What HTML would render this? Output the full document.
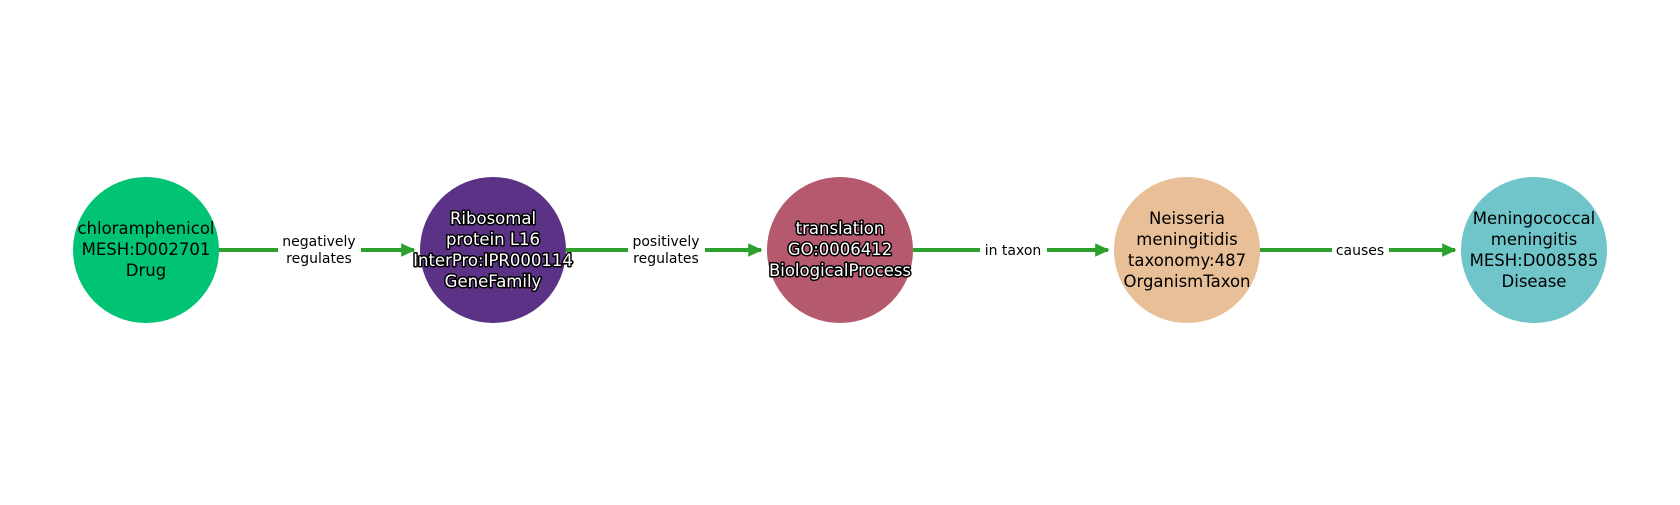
<!DOCTYPE html>
<html><head><style>body{margin:0;background:#fff}</style></head><body>
<svg width="1680" height="500" xmlns="http://www.w3.org/2000/svg" font-family="'DejaVu Sans', 'Liberation Sans', sans-serif">
<defs><marker id="a" markerWidth="4" markerHeight="4" refX="3.2" refY="2" orient="auto" markerUnits="strokeWidth"><path d="M0,0.3 L3.6,2 L0,3.7 z" fill="#2ca02c"/></marker></defs>
<g stroke="#2ca02c" stroke-width="4" fill="none">
<line x1="219" y1="250" x2="278" y2="250"/><line x1="361" y1="250" x2="414" y2="250" marker-end="url(#a)"/>
<line x1="566" y1="250" x2="628" y2="250"/><line x1="705" y1="250" x2="761" y2="250" marker-end="url(#a)"/>
<line x1="913" y1="250" x2="980" y2="250"/><line x1="1047" y1="250" x2="1108" y2="250" marker-end="url(#a)"/>
<line x1="1260" y1="250" x2="1332" y2="250"/><line x1="1389" y1="250" x2="1455" y2="250" marker-end="url(#a)"/>
</g>
<circle cx="146" cy="250" r="73" fill="#00c473"/>
<circle cx="493" cy="250" r="73" fill="#5b3286"/>
<circle cx="840" cy="250" r="73" fill="#b5596e"/>
<circle cx="1187" cy="250" r="73" fill="#e8bf96"/>
<circle cx="1534" cy="250" r="73" fill="#70c5ca"/>
<g font-size="14" text-anchor="middle" fill="#000">
<text x="319" y="246">negatively</text><text x="319" y="263">regulates</text>
<text x="666" y="246">positively</text><text x="666" y="263">regulates</text>
<text x="1013" y="255">in taxon</text>
<text x="1360" y="255">causes</text>
</g>
<g font-size="16.5" text-anchor="middle" fill="#000">
<text x="146" y="234">chloramphenicol</text><text x="146" y="255">MESH:D002701</text><text x="146" y="276">Drug</text>
<text x="1187" y="224">Neisseria</text><text x="1187" y="245">meningitidis</text><text x="1187" y="266">taxonomy:487</text><text x="1187" y="287">OrganismTaxon</text>
<text x="1534" y="224">Meningococcal</text><text x="1534" y="245">meningitis</text><text x="1534" y="266">MESH:D008585</text><text x="1534" y="287">Disease</text>
</g>
<g font-size="16.5" text-anchor="middle" fill="#fff" stroke="#000" stroke-width="3" paint-order="stroke" stroke-linejoin="round">
<text x="493" y="224">Ribosomal</text><text x="493" y="245">protein L16</text><text x="493" y="266">InterPro:IPR000114</text><text x="493" y="287">GeneFamily</text>
<text x="840" y="234">translation</text><text x="840" y="255">GO:0006412</text><text x="840" y="276">BiologicalProcess</text>
</g>
</svg>
</body></html>
